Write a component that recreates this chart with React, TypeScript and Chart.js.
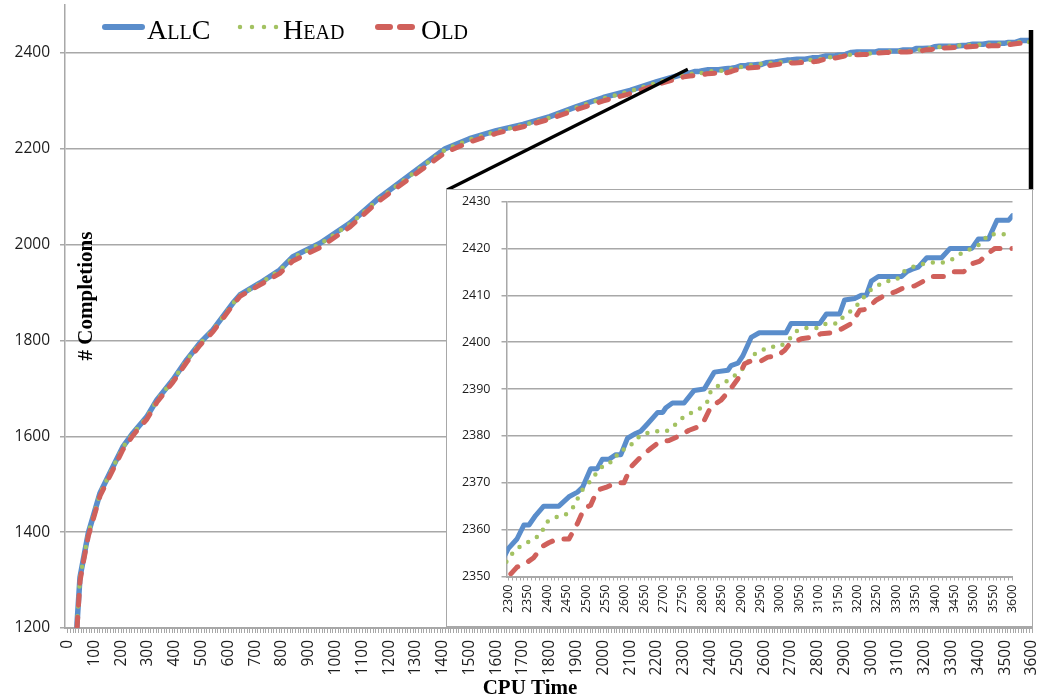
import React, { useEffect, useRef } from 'react';
import { Chart, registerables } from 'chart.js';

Chart.register(...registerables);

// ---------- data ----------
const earlyT = [30, 35, 46, 58, 77, 121, 158, 206, 244, 296, 333, 393, 445, 494, 542, 617, 643, 718, 792, 841, 942, 1054, 1155, 1300, 1409, 1500, 1600, 1700, 1800, 1900, 2000, 2100, 2200];
const allcEarly = [1120, 1210, 1306, 1342, 1398, 1482, 1524, 1578, 1607, 1641, 1676, 1718, 1760, 1795, 1822, 1878, 1895, 1920, 1947, 1975, 2003, 2045, 2094, 2155, 2200, 2221, 2238, 2251, 2267, 2288, 2307, 2322, 2340];
const headEarly = [1120, 1209, 1305, 1341, 1397, 1481, 1523, 1577, 1606, 1640, 1675, 1717, 1759, 1794, 1821, 1877, 1894, 1919, 1946, 1973, 2001, 2043, 2092, 2153, 2198, 2219, 2236, 2249, 2265, 2286, 2305, 2320, 2338];
const oldEarly = [1110, 1200, 1298, 1336, 1392, 1476, 1518, 1572, 1602, 1636, 1671, 1713, 1755, 1790, 1818, 1874, 1892, 1916, 1940, 1966, 1994, 2037, 2088, 2148, 2192, 2214, 2232, 2246, 2262, 2282, 2300, 2315, 2334];

const allcLateT = [2300, 2322, 2340, 2353, 2370, 2391, 2430, 2456, 2478, 2491, 2512, 2529, 2542, 2559, 2577, 2590, 2607, 2628, 2641, 2659, 2685, 2698, 2706, 2723, 2753, 2779, 2805, 2831, 2866, 2874, 2892, 2904, 2926, 2947, 3016, 3029, 3103, 3120, 3154, 3167, 3193, 3210, 3223, 3236, 3254, 3314, 3327, 3340, 3357, 3379, 3417, 3439, 3495, 3512, 3538, 3560, 3590, 3600];
const allcLateV = [2356, 2358, 2361, 2361, 2363, 2365, 2365, 2367, 2368, 2369, 2373, 2373, 2375, 2375, 2376, 2376, 2379.5, 2380.5, 2381, 2382.6, 2385, 2385, 2386, 2387, 2387, 2389.7, 2390, 2393.6, 2394, 2395, 2395.5, 2397, 2401, 2402, 2402, 2404, 2404, 2406, 2406, 2409, 2409.3, 2410, 2410, 2413, 2414, 2414, 2415, 2415.5, 2416, 2418, 2418, 2420, 2420, 2422, 2422, 2426, 2426, 2427];

const headLateT = [2300, 2322, 2344, 2365, 2384, 2396, 2419, 2445, 2465, 2479, 2493, 2510, 2528, 2548, 2572, 2585, 2610, 2628, 2652, 2678, 2708, 2729, 2751, 2773, 2797, 2814, 2822, 2847, 2870, 2892, 2913, 2926, 2947, 2973, 2999, 3022, 3042, 3068, 3097, 3120, 3150, 3167, 3191, 3210, 3232, 3250, 3275, 3301, 3318, 3342, 3366, 3393, 3422, 3448, 3469, 3495, 3519, 3538, 3567, 3600];
const headLateV = [2354, 2356, 2357, 2358, 2359, 2361.5, 2362.6, 2363, 2364.5, 2366.7, 2368.8, 2370.2, 2372.2, 2374, 2374.6, 2376.8, 2377.4, 2379.3, 2380.5, 2381, 2381, 2382.3, 2384, 2385, 2386, 2387.4, 2389.6, 2391, 2392, 2393.4, 2395, 2397, 2398, 2399, 2399, 2400.4, 2402.3, 2403, 2403, 2404, 2404, 2405.8, 2407, 2409, 2411, 2412, 2413, 2413.3, 2415, 2416, 2416.6, 2417, 2417, 2417.8, 2419, 2420, 2421, 2423, 2423, 2423];

const oldLateT = [2300, 2322, 2348, 2365, 2387, 2404, 2426, 2456, 2478, 2495, 2512, 2529, 2551, 2577, 2598, 2616, 2641, 2667, 2689, 2714, 2740, 2766, 2792, 2805, 2822, 2848, 2870, 2892, 2909, 2926, 2952, 2969, 2991, 3012, 3025, 3055, 3081, 3107, 3133, 3159, 3185, 3206, 3223, 3249, 3271, 3297, 3314, 3348, 3366, 3392, 3422, 3448, 3474, 3495, 3516, 3538, 3555, 3600];
const oldLateV = [2350, 2352, 2353, 2354, 2356.4, 2357.2, 2358, 2358, 2361.3, 2364.5, 2365.2, 2368.4, 2369, 2370, 2370, 2373.4, 2375.5, 2377.3, 2378.7, 2379, 2380, 2381.2, 2382, 2383.3, 2386.2, 2387.6, 2389.7, 2392.2, 2395.4, 2396, 2396, 2396.8, 2397, 2398.2, 2399.6, 2400.7, 2401, 2401.8, 2402, 2402.8, 2404, 2406.8, 2407, 2409, 2410, 2410.7, 2411.4, 2412, 2412.8, 2414, 2414, 2415, 2415, 2416.7, 2417.3, 2419, 2420, 2420];

const seriesNames = ['AllC', 'Head', 'Old'];
const mainYTicks = [1200, 1400, 1600, 1800, 2000, 2200, 2400];
const insetYTicks = [2350, 2360, 2370, 2380, 2390, 2400, 2410, 2420, 2430];
const mainXRange = [0, 3600];
const insetXRange = [2300, 3600];
const mainLabelEvery = 100;
const insetLabelEvery = 50;
const minorTickEvery = 10;

// ---------- styles ----------
const BLUE = '#5a8dcb';
const GREEN = '#a3c262';
const RED = '#d0605b';
const GRID = '#a8a8a8';
const TXT = '#1c1c1c';
const SANS = 'Open Sans';
const SERIF = '"Liberation Serif", "Times New Roman", serif';

const W = 1040;
const H = 697;
const INSET = { left: 446, top: 189, width: 587, height: 438, border: 1.5 };

function pts(t: number[], v: number[]) {
  return t.map((x, i) => ({ x, y: v[i] }));
}

function rangeTicks(a: number, b: number, step: number) {
  const out: { value: number }[] = [];
  for (let v = a; v <= b + 1e-9; v += step) out.push({ value: v });
  return out;
}

function makeDatasets(big: boolean) {
  const allc = pts([...earlyT, ...allcLateT], [...allcEarly, ...allcLateV]);
  const head = pts([...earlyT, ...headLateT], [...headEarly, ...headLateV]);
  const old = pts([...earlyT, ...oldLateT], [...oldEarly, ...oldLateV]);
  const common = { pointRadius: 0, tension: 0, fill: false, borderCapStyle: 'round' as const, borderJoinStyle: 'round' as const };
  return [
    { ...common, label: seriesNames[0], data: allc, borderColor: BLUE, borderWidth: big ? 5.5 : 5, order: 3 },
    { ...common, label: seriesNames[1], data: head, borderColor: GREEN, borderWidth: 4.5, borderDash: [0, 10], order: 2 },
    { ...common, label: seriesNames[2], data: old, borderColor: RED, borderWidth: 5, borderDash: [10, 12], order: 1 },
  ];
}

const mainDecor = {
  id: 'mainDecor',
  afterDraw(chart: any) {
    const ctx = chart.ctx as CanvasRenderingContext2D;
    const xs = chart.scales.x;
    const ys = chart.scales.y;
    ctx.save();
    // y title inside plot
    ctx.save();
    ctx.translate(91.5, 296);
    ctx.rotate(-Math.PI / 2);
    ctx.font = `bold 21px ${SERIF}`;
    ctx.fillStyle = '#000';
    ctx.textAlign = 'center';
    ctx.textBaseline = 'alphabetic';
    ctx.fillText('# Completions', 0, 0);
    ctx.restore();
    // x title
    ctx.font = `bold 21px ${SERIF}`;
    ctx.fillStyle = '#000';
    ctx.textAlign = 'center';
    ctx.textBaseline = 'alphabetic';
    ctx.fillText('CPU Time', 530, 694);

    // legend
    const legendY = 27;
    const textY = 39;
    ctx.font = `small-caps 28px ${SERIF}`;
    ctx.textAlign = 'left';
    ctx.lineCap = 'round';
    // AllC
    ctx.strokeStyle = BLUE;
    ctx.lineWidth = 6;
    ctx.setLineDash([]);
    ctx.beginPath(); ctx.moveTo(105, legendY); ctx.lineTo(142, legendY); ctx.stroke();
    ctx.fillStyle = '#000';
    ctx.fillText(seriesNames[0], 147, textY);
    // Head
    ctx.strokeStyle = GREEN;
    ctx.lineWidth = 4.5;
    ctx.setLineDash([0, 12]);
    ctx.beginPath(); ctx.moveTo(240, legendY); ctx.lineTo(278, legendY); ctx.stroke();
    ctx.fillText(seriesNames[1], 283, textY);
    // Old
    ctx.strokeStyle = RED;
    ctx.lineWidth = 6;
    ctx.setLineDash([12, 10]);
    ctx.beginPath(); ctx.moveTo(378, legendY); ctx.lineTo(413, legendY); ctx.stroke();
    ctx.fillText(seriesNames[2], 421, textY);
    ctx.setLineDash([]);

    // zoom connector lines
    ctx.strokeStyle = '#000';
    ctx.lineCap = 'butt';
    ctx.lineWidth = 3.2;
    ctx.beginPath();
    ctx.moveTo(INSET.left + 1, INSET.top + 1);
    ctx.lineTo(xs.getPixelForValue(2315), ys.getPixelForValue(2366));
    ctx.stroke();
    ctx.lineWidth = 4.5;
    ctx.beginPath();
    const vx = xs.getPixelForValue(3600) - 1;
    ctx.moveTo(vx, ys.getPixelForValue(2448));
    ctx.lineTo(vx, INSET.top + 1);
    ctx.stroke();
    ctx.restore();
  },
};

export default function App() {
  const mainRef = useRef<HTMLCanvasElement>(null);
  const insetRef = useRef<HTMLCanvasElement>(null);

  useEffect(() => {
    document.body.style.margin = '0';
    document.body.style.overflow = 'hidden';

    const main = new Chart(mainRef.current!, {
      type: 'line',
      data: { datasets: makeDatasets(true) as any },
      options: {
        responsive: false,
        animation: false,
        devicePixelRatio: 1,
        layout: { padding: { top: 5, right: 8, left: 0, bottom: 0 } },
        plugins: { legend: { display: false }, tooltip: { enabled: false } },
        scales: {
          x: {
            type: 'linear',
            min: mainXRange[0] - 10,
            max: mainXRange[1],
            afterBuildTicks: (s: any) => { s.ticks = rangeTicks(mainXRange[0], mainXRange[1], minorTickEvery); },
            afterFit: (s: any) => { s.height = 69; s.paddingLeft = 0; s.paddingRight = 0; },
            ticks: {
              autoSkip: false,
              minRotation: 90,
              maxRotation: 90,
              padding: 7,
              color: TXT,
              font: { family: SANS, size: 15.5 },
              callback: (v: any) => (Math.round(v) % mainLabelEvery === 0 ? String(v) : ''),
            },
            grid: { drawOnChartArea: false, drawTicks: true, tickLength: 5, color: GRID, lineWidth: 1 },
            border: { color: GRID, width: 2 },
          },
          y: {
            type: 'linear',
            min: 1200,
            max: 2500,
            afterBuildTicks: (s: any) => { s.ticks = mainYTicks.map((value) => ({ value })); },
            afterFit: (s: any) => { s.width = 65; s.paddingTop = 0; s.paddingBottom = 0; },
            ticks: { padding: 10, color: TXT, font: { family: SANS, size: 15.5 }, callback: (v: any) => String(v) },
            grid: { color: GRID, lineWidth: 1.5, tickLength: 5 },
            border: { color: GRID, width: 1.5 },
          },
        },
      },
      plugins: [mainDecor],
    });

    const inset = new Chart(insetRef.current!, {
      type: 'line',
      data: { datasets: makeDatasets(false) as any },
      options: {
        responsive: false,
        animation: false,
        devicePixelRatio: 1,
        layout: { padding: { top: 11.5, right: 18.5, left: 0, bottom: 0 } },
        plugins: { legend: { display: false }, tooltip: { enabled: false } },
        scales: {
          x: {
            type: 'linear',
            min: insetXRange[0] - 5,
            max: insetXRange[1],
            afterBuildTicks: (s: any) => { s.ticks = rangeTicks(insetXRange[0], insetXRange[1], minorTickEvery); },
            afterFit: (s: any) => { s.height = 48.5; s.paddingLeft = 0; s.paddingRight = 0; },
            ticks: {
              autoSkip: false,
              minRotation: 90,
              maxRotation: 90,
              padding: 4,
              color: TXT,
              font: { family: SANS, size: 12.5 },
              callback: (v: any) => (Math.round(v) % insetLabelEvery === 0 ? String(v) : ''),
            },
            grid: { drawOnChartArea: false, drawTicks: true, tickLength: 4, color: GRID, lineWidth: 1 },
            border: { color: GRID, width: 2 },
          },
          y: {
            type: 'linear',
            min: 2350,
            max: 2430,
            afterBuildTicks: (s: any) => { s.ticks = insetYTicks.map((value) => ({ value })); },
            afterFit: (s: any) => { s.width = 59.5; s.paddingTop = 0; s.paddingBottom = 0; },
            ticks: { padding: 11, color: TXT, font: { family: SANS, size: 12.5 }, callback: (v: any) => String(v) },
            grid: { color: GRID, lineWidth: 1.5, tickLength: 5 },
            border: { color: GRID, width: 1.5 },
          },
        },
      },
    });

    return () => {
      main.destroy();
      inset.destroy();
    };
  }, []);

  const innerW = INSET.width - 2 * INSET.border;
  const innerH = INSET.height - 2 * INSET.border;

  return (
    <div style={{ position: 'relative', width: W, height: H, background: '#fff', overflow: 'hidden' }}>
      <canvas ref={mainRef} width={W} height={H} style={{ position: 'absolute', left: 0, top: 0, width: W, height: H }} />
      <div
        style={{
          position: 'absolute',
          left: INSET.left,
          top: INSET.top,
          width: INSET.width,
          height: INSET.height,
          border: `${INSET.border}px solid ${GRID}`,
          boxSizing: 'border-box',
          background: '#fff',
        }}
      >
        <canvas ref={insetRef} width={innerW} height={innerH} style={{ display: 'block', width: innerW, height: innerH }} />
      </div>
    </div>
  );
}
